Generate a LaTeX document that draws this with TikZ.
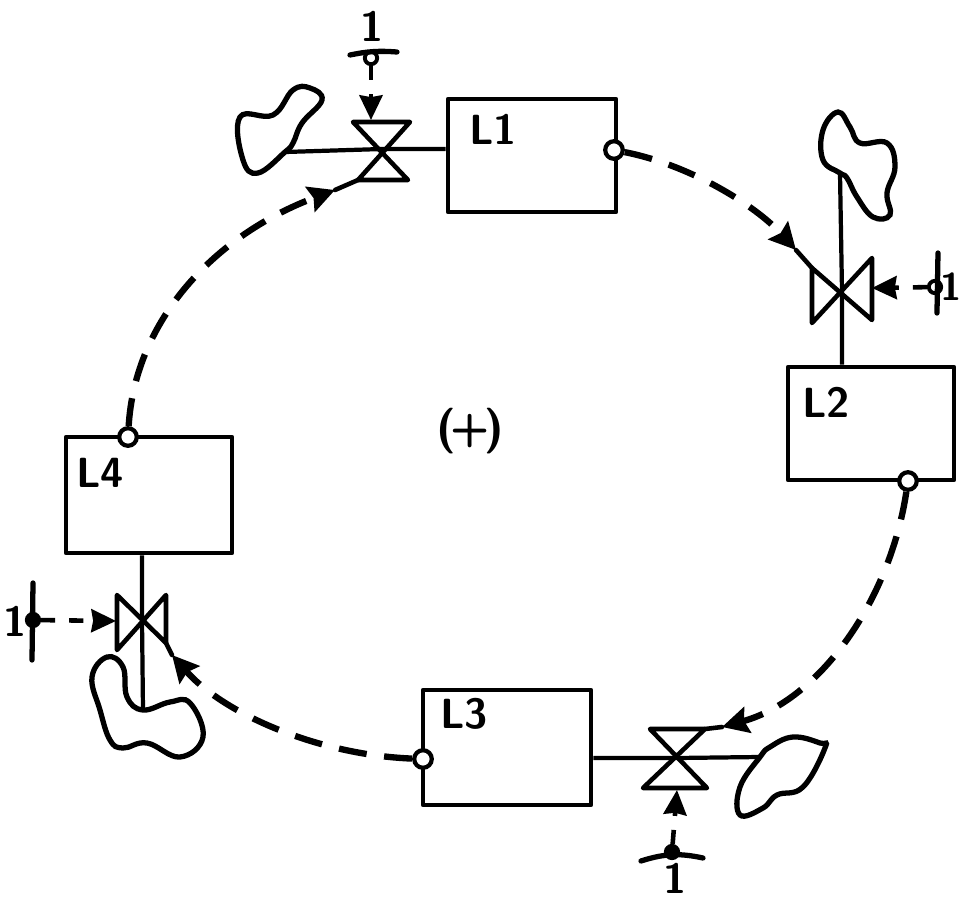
\documentclass[tikz,border=0pt]{standalone}
\usepackage{amsmath}
\usetikzlibrary{arrows.meta,positioning}
\tikzset{
  loopbox/.style={draw, line width=1.3pt, inner sep=0pt, line join=round},
  looplabel/.style={inner sep=0pt, font=\fontsize{12}{12}\selectfont\sffamily\bfseries},
  portnode/.style={draw, circle, line width=1.2pt, fill=white, inner sep=0pt, minimum size=5pt},
  sensornode/.style={draw, circle, line width=1.1pt, fill=white, inner sep=0pt, minimum size=3.5pt},
  valveline/.style={line width=1.3pt, line join=round, line cap=round},
  pipeline/.style={line width=1.2pt},
  blobline/.style={line width=1.5pt},
  barline/.style={line width=1.5pt, line cap=round},
  flowline/.style={line width=1.8pt, dash pattern=on 8pt off 5pt, -{Stealth[length=7.5pt,width=7.5pt,inset=1pt]}},
  feedline/.style={line width=1.3pt, dash pattern=on 4pt off 4pt, -{Stealth[length=7pt,width=6.5pt,inset=0.5pt]}}
}
\begin{document}
\begin{tikzpicture}[x=0.01cm,y=-0.01cm]
\useasboundingbox (0,0) rectangle (959,899);

% the four boxes
\node[loopbox, minimum width=1.68cm, minimum height=1.13cm] (L1) at (532,155.5) {};
\node[loopbox, minimum width=1.66cm, minimum height=1.13cm] (L2) at (871,423.5) {};
\node[loopbox, minimum width=1.68cm, minimum height=1.15cm] (L3) at (507,747.5) {};
\node[loopbox, minimum width=1.66cm, minimum height=1.16cm] (L4) at (149,495) {};

\node[looplabel] (L1text) at (493,129) {L1};
\node[looplabel] (L2text) at (826,402) {L2};
\node[looplabel] (L3text) at (464,714) {L3};
\node[looplabel] (L4text) at (100,473) {L4};
\node[inner sep=0pt, font=\fontsize{13}{13}\selectfont\sffamily\bfseries] (sign) at (470,431) {(\kern-1.5pt+\kern-1.5pt)};

% valves
\coordinate (V1) at (382,149);
\coordinate (V2) at (842,290);
\coordinate (V3) at (677,758);
\coordinate (V4) at (142,620);
\draw[valveline] (353,122) -- (410,122) -- (358,180) -- (408,180) -- cycle;
\draw[valveline] (812,268) -- (812,323) -- (872,258) -- (872,320) -- cycle;
\draw[valveline] (650,729) -- (705,729) -- (643,788) -- (707,788) -- cycle;
\draw[valveline] (117,595) -- (117,650) -- (166,595) -- (166,643) -- cycle;

% reservoirs
\draw[blobline] plot[smooth cycle, tension=.7] coordinates {(285,152) (258,173) (243,160) (240,117) (273,115) (293,90) (310,88) (322,100) (302,123) (293,143)};
\draw[blobline] plot[smooth cycle, tension=.7] coordinates {(840,173) (823,160) (823,130) (838,112) (850,127) (860,143) (887,143) (895,167) (887,193) (890,215) (873,217) (857,197) (847,178)};
\draw[blobline] plot[smooth cycle, tension=.7] coordinates {(760,757) (740,787) (740,815) (763,808) (777,795) (803,787) (825,748) (820,743) (793,737) (770,747)};
\draw[blobline] plot[smooth cycle, tension=.7] coordinates {(143,710) (127,697) (123,667) (107,657) (92,677) (100,710) (110,740) (123,748) (147,743) (180,757) (203,737) (190,703) (170,702)};
\coordinate (B1) at (285,152);
\coordinate (B2) at (840,173);
\coordinate (B3) at (760,757);
\coordinate (B4) at (143,710);

% pipes through the valves
\draw[pipeline] (B1) -- (V1) -- (V1 -| L1.west);
\draw[pipeline] (B2) -- (V2) -- (V2 |- L2.north);
\draw[pipeline] (V3 -| L3.east) -- (V3) -- (B3);
\draw[pipeline] (V4 |- L4.south) -- (V4) -- (B4);

% ports on the boxes
\node[portnode] (P1) at (614,150) {};
\node[portnode] (P2) at (908,481) {};
\node[portnode] (P3) at (423,759) {};
\node[portnode] (P4) at (128,437) {};

% loop
\coordinate (F1) at (335,190);
\coordinate (F2) at (796,250);
\coordinate (F3) at (722,727);
\coordinate (F4) at (172,655);
\draw[flowline] (P4) .. controls (135,320) and (215,235) .. (F1);
\draw[flowline] (P1) .. controls (690,165) and (755,205) .. (F2);
\draw[flowline] (P2) .. controls (890,600) and (820,700) .. (F3);
\draw[flowline] (P3) .. controls (320,755) and (225,715) .. (F4);
\draw[valveline] (F1) -- (358,180);
\draw[valveline] (F2) -- (812,268);
\draw[valveline] (F3) -- (705,729);
\draw[valveline] (F4) -- (166,643);

% setpoints
\node[sensornode] (S1) at (371,58) {};
\node[sensornode] (S2) at (935,287) {};
\node[sensornode, fill=black] (S3) at (672,852) {};
\node[sensornode, fill=black] (S4) at (33,620) {};
\draw[barline] (350,55) to[bend left=8] (397,52);
\draw[barline] (938,253) -- (937,313);
\draw[barline] (641,861) to[bend left=15] (703,858);
\draw[barline] (33,583) -- (32,660);
\node[looplabel] (S1text) at (372,26) {1};
\node[looplabel, font=\fontsize{11}{11}\selectfont\sffamily\bfseries] (S2text) at (951,287) {1};
\node[looplabel] (S3text) at (675,878) {1};
\node[looplabel] (S4text) at (15,621) {1};
\coordinate (T1) at (371,120);
\coordinate (T2) at (872,288);
\coordinate (T3) at (677,790);
\coordinate (T4) at (116,621);
\draw[feedline] (S1) -- (T1);
\draw[feedline] (S2) -- (T2);
\draw[feedline] (S3) -- (T3);
\draw[feedline] (S4) -- (T4);

\end{tikzpicture}
\end{document}
